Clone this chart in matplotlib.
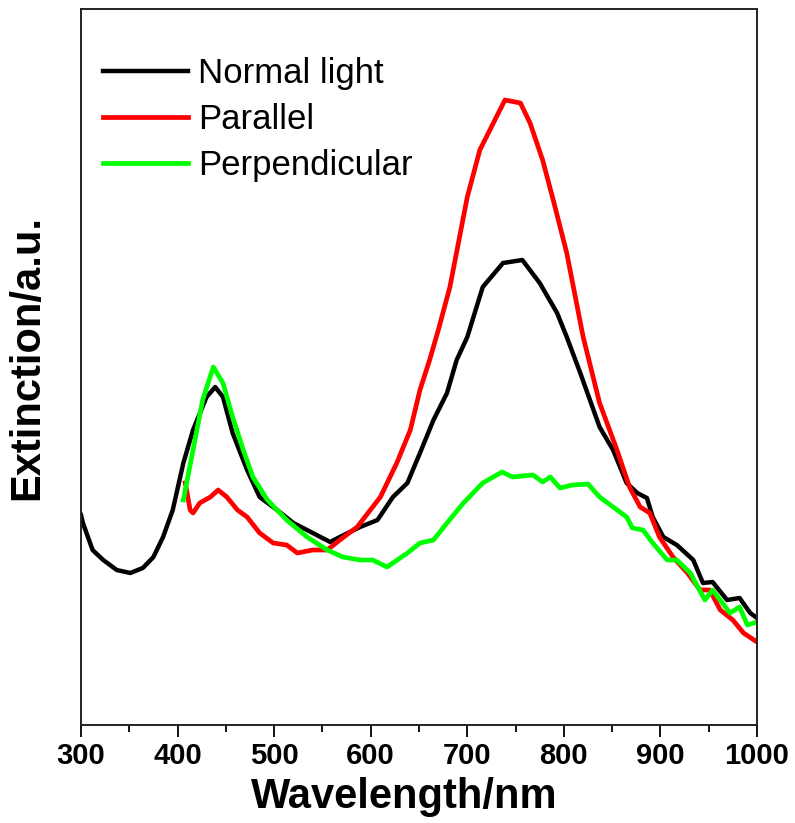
import matplotlib
matplotlib.use("Agg")
import matplotlib.pyplot as plt
from matplotlib.ticker import MultipleLocator

plt.rcParams['font.family'] = ['Liberation Sans', 'DejaVu Sans']

# Normal light (wavelength nm, extinction a.u.)
normal_wl = [300, 302, 312, 323, 337, 351, 364, 375, 385, 395, 406, 416, 430, 439,
             447, 457, 472, 485, 503, 520, 540, 558, 568, 589, 607, 623, 638, 651,
             665, 679, 689, 700, 716, 737, 757, 775, 793, 803, 817, 837, 851, 865,
             876, 886, 892, 903, 917, 934, 944, 954, 969, 982, 993, 1000]
normal_ext = [2.10, 2.02, 1.75, 1.65, 1.55, 1.52, 1.57, 1.68, 1.88, 2.15, 2.62, 2.95,
              3.28, 3.38, 3.28, 2.92, 2.55, 2.28, 2.15, 2.02, 1.92, 1.83, 1.88, 1.98,
              2.05, 2.28, 2.42, 2.72, 3.05, 3.32, 3.65, 3.88, 4.38, 4.62, 4.65, 4.42,
              4.12, 3.88, 3.52, 2.98, 2.75, 2.42, 2.32, 2.27, 2.08, 1.88, 1.80, 1.65,
              1.42, 1.43, 1.25, 1.27, 1.12, 1.07]

# Parallel polarization
parallel_wl = [408, 413, 416, 423, 434, 442, 451, 462, 472, 485, 499, 513, 524, 540,
               555, 568, 586, 610, 627, 641, 651, 661, 670, 682, 700, 713, 727, 739,
               755, 765, 778, 789, 803, 820, 837, 855, 868, 879, 889, 899, 913, 928,
               941, 951, 962, 975, 986, 1000]
parallel_ext = [2.42, 2.15, 2.12, 2.22, 2.28, 2.35, 2.28, 2.15, 2.08, 1.92, 1.82, 1.80,
                1.72, 1.75, 1.75, 1.85, 1.98, 2.28, 2.62, 2.95, 3.35, 3.65, 3.95, 4.38,
                5.28, 5.75, 6.02, 6.25, 6.22, 6.02, 5.65, 5.25, 4.72, 3.88, 3.22, 2.75,
                2.38, 2.18, 2.12, 1.88, 1.68, 1.52, 1.35, 1.35, 1.15, 1.05, 0.92, 0.83]

# Perpendicular polarization
perp_wl = [406, 416, 426, 437, 447, 457, 468, 478, 493, 513, 534, 555, 571, 589, 602,
           617, 638, 651, 665, 679, 696, 716, 736, 747, 768, 778, 786, 796, 809, 825,
           837, 851, 865, 871, 882, 892, 907, 917, 931, 946, 954, 972, 982, 990, 1000]
perp_ext = [2.25, 2.75, 3.25, 3.58, 3.42, 3.08, 2.75, 2.48, 2.25, 2.05, 1.88, 1.75,
            1.68, 1.65, 1.65, 1.58, 1.72, 1.82, 1.85, 2.02, 2.22, 2.42, 2.53, 2.48,
            2.50, 2.43, 2.48, 2.37, 2.40, 2.41, 2.28, 2.18, 2.08, 1.97, 1.95, 1.82,
            1.65, 1.65, 1.52, 1.25, 1.35, 1.12, 1.18, 1.00, 1.03]

fig = plt.figure(figsize=(7.95, 8.23), dpi=100)
ax = fig.add_axes([81 / 795, 98 / 823, 676 / 795, 716 / 823])

ax.plot(normal_wl, normal_ext, color='black', lw=3.2, label='Normal light')
ax.plot(parallel_wl, parallel_ext, color='#ff0000', lw=3.4, label='Parallel')
ax.plot(perp_wl, perp_ext, color='#00ff00', lw=3.4, label='Perpendicular')

ax.set_xlim(300, 1000)
ax.set_ylim(0, 7.16)
ax.xaxis.set_major_locator(MultipleLocator(100))
ax.xaxis.set_minor_locator(MultipleLocator(50))
ax.tick_params(axis='x', which='major', direction='out', length=8.5, width=1.3,
               labelsize=21, pad=4)
ax.tick_params(axis='x', which='minor', direction='out', length=5, width=1.3)
ax.set_yticks([])
for lbl in ax.get_xticklabels():
    lbl.set_fontweight('bold')
for sp in ax.spines.values():
    sp.set_linewidth(1.4)
    sp.set_color('#222222')

ax.set_xlabel('Wavelength/nm', fontsize=30, fontweight='bold', labelpad=5)
ax.set_ylabel('Extinction/a.u.', fontsize=30, fontweight='bold', labelpad=24)
ax.xaxis.label.set_x(0.478)
ax.yaxis.label.set_y(0.513)

leg = ax.legend(loc='upper left', bbox_to_anchor=(103 / 795, (823 - 57) / 823),
                bbox_transform=fig.transFigure, frameon=False, fontsize=25,
                handlelength=2.45, handletextpad=0.3, labelspacing=0.38,
                borderpad=0, borderaxespad=0)

fig.savefig('out.png', dpi=100)
